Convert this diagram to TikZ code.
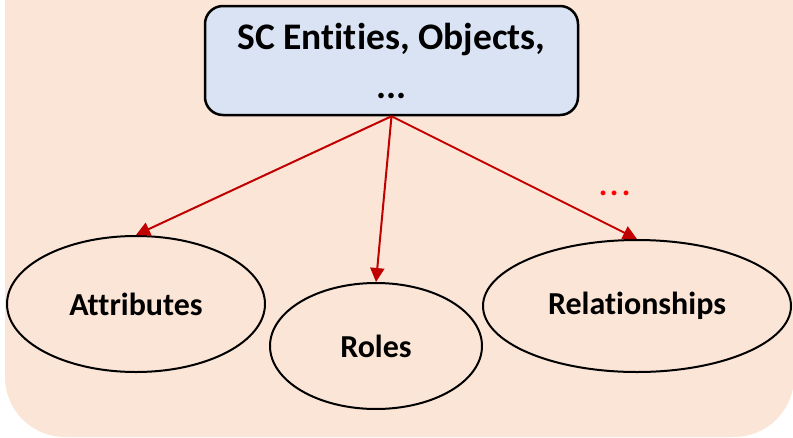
\documentclass[tikz,border=0pt]{standalone}
\usepackage{fontspec}
\setmainfont[RawFeature=-liga]{Carlito}
\usetikzlibrary{shapes.geometric,arrows.meta}
\definecolor{bgpeach}{HTML}{FBE5D6}
\definecolor{boxblue}{HTML}{DAE3F3}
\definecolor{arrowred}{HTML}{C00000}
\begin{document}
\begin{tikzpicture}[x=1pt,y=-1pt,
  oval/.style={ellipse, draw=black, line width=2pt, inner sep=0pt, font=\fontsize{32}{38}\selectfont\bfseries},
  conn/.style={draw=arrowred, line width=2pt, -{Triangle[length=14pt,width=14pt]}}]
\useasboundingbox (0,0) rectangle (793,437);
\begin{scope}
\clip (0,0) rectangle (793,437);
\fill[bgpeach, rounded corners=60pt] (5,-100) rectangle (794,437);
\end{scope}
\node[draw=black, line width=2.5pt, fill=boxblue, rounded corners=18pt,
      minimum width=373pt, minimum height=109pt, inner sep=0pt, align=center,
      font=\fontsize{37.5}{49}\selectfont\bfseries] (top) at (391.5,60.5) {SC Entities, Objects,\\...};
\node[oval, minimum width=258pt, minimum height=136pt] (attr) at (136,304) {Attributes};
\node[oval, minimum width=212pt, minimum height=126pt] (roles) at (376,346) {Roles};
\node[oval, minimum width=308pt, minimum height=132pt] (rel) at (637,306) {Relationships};
\draw[conn] (top.south) -- (attr.north);
\draw[conn] (top.south) -- (roles.north);
\draw[conn] (top.south) -- (rel.north);
\node[text=red, anchor=base, inner sep=0pt, font=\fontsize{40}{44}\selectfont] (more) at (615,195) {.\kern1pt.\kern1pt.};
\end{tikzpicture}
\end{document}
